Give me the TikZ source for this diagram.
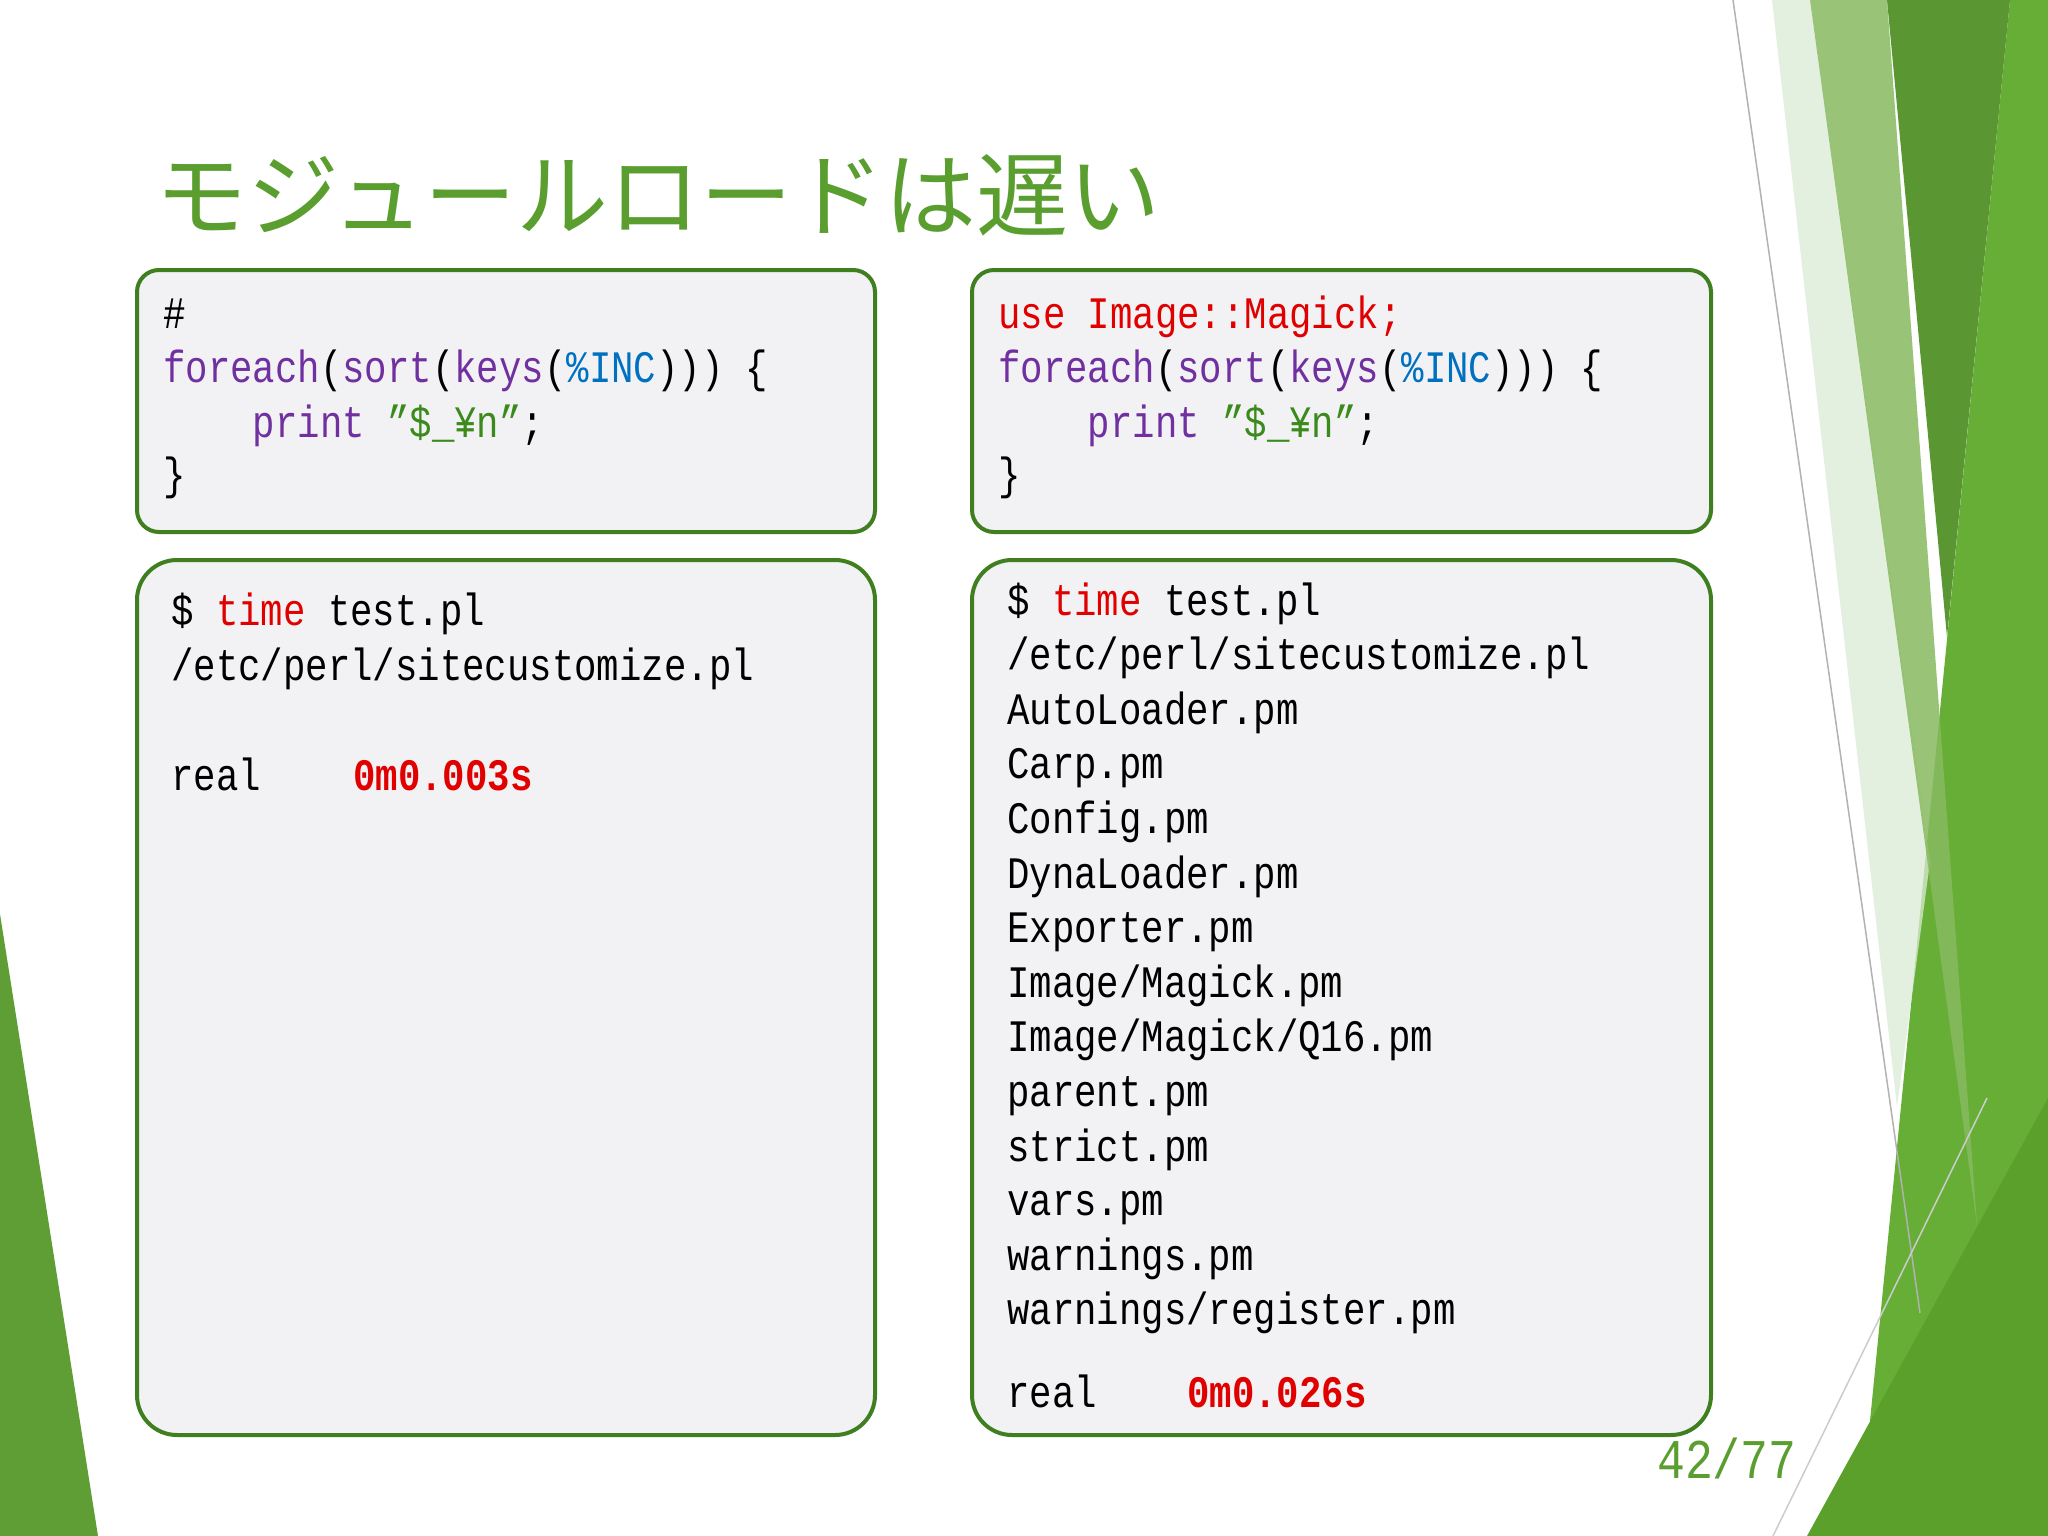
\documentclass[tikz,border=0pt]{standalone}
\usepackage{fontspec}
\newfontfamily\cjk{Noto Sans CJK JP}
\newfontfamily\code[FakeStretch=0.83]{Liberation Mono}
\definecolor{ttl}{HTML}{5A9E2F}
\definecolor{frame}{HTML}{3F7F1F}
\definecolor{boxbg}{HTML}{F2F2F4}
\definecolor{kw}{HTML}{7030A0}
\definecolor{var}{HTML}{0070C0}
\definecolor{str}{HTML}{3A8A1C}
\definecolor{rd}{HTML}{E00000}
\definecolor{gpale}{HTML}{DCEBD5}
\definecolor{gmed}{HTML}{88BA60}
\definecolor{gdark}{HTML}{5A9632}
\definecolor{gbright}{HTML}{66AE36}
\definecolor{gbot}{HTML}{5AA02A}
\definecolor{gleft}{HTML}{5F9E34}
\tikzset{
  codebox/.style={draw=frame, fill=boxbg, line width=4pt},
  ln/.style={anchor=base west, inner sep=0pt, font=\code\fontsize{45}{50}\selectfont},
}
\begin{document}
\begin{tikzpicture}[x=1pt,y=-1pt]
\useasboundingbox (0,0) rectangle (2048,1536);
\fill[white] (0,0) rectangle (2048,1536);
% decoration right
\fill[gbright] (2010,0) -- (2048,0) -- (2048,1536) -- (1870,1421) -- cycle;
\fill[gpale,opacity=0.75] (1772,0) -- (1810,0) -- (1930,862) -- (1897,1107) -- cycle;
\fill[gmed,opacity=0.85] (1810,0) -- (1887,0) -- (1977,1225) -- cycle;
\fill[gdark] (1887,0) -- (2010,0) -- (1947,637) -- cycle;
\fill[gbot] (1807,1536) -- (2048,1098) -- (2048,1536) -- cycle;
\draw[gray!60,line width=1.5pt] (1733,0) -- (1920,1313);
\draw[gray!40,line width=1.5pt] (1773,1536) -- (1987,1098);
% left triangle
\fill[gleft] (0,914) -- (98,1536) -- (0,1536) -- cycle;
% title
\node[anchor=west, inner sep=0pt, text=ttl, font=\cjk\fontsize{92}{94}\selectfont] (title) at (155,195) {モジュールロードは遅い};
% boxes
\draw[codebox, rounded corners=22pt] (137,270) rectangle (875,532);
\draw[codebox, rounded corners=22pt] (972,270) rectangle (1711,532);
\draw[codebox, rounded corners=40pt] (137,560) rectangle (875,1435);
\draw[codebox, rounded corners=40pt] (972,560) rectangle (1711,1435);
% TL
\node[ln] (a1) at (163,328) {\#};
\node[ln] (a2) at (163,382) {\textcolor{kw}{foreach}(\textcolor{kw}{sort}(\textcolor{kw}{keys}(\textcolor{var}{\%INC}))) \{};
\node[ln] (a3) at (163,437) {\ \ \ \ \textcolor{kw}{print} \textcolor{str}{”\$\_¥n”};};
\node[ln] (a4) at (163,489) {\}};
% TR
\node[ln,text=rd] (b1) at (998,328) {use Image::Magick;};
\node[ln] (b2) at (998,382) {\textcolor{kw}{foreach}(\textcolor{kw}{sort}(\textcolor{kw}{keys}(\textcolor{var}{\%INC}))) \{};
\node[ln] (b3) at (998,437) {\ \ \ \ \textcolor{kw}{print} \textcolor{str}{”\$\_¥n”};};
\node[ln] (b4) at (998,489) {\}};
% BL
\node[ln] (c1) at (171,625) {\$ \textcolor{rd}{time} test.pl};
\node[ln] (c2) at (171,680) {/etc/perl/sitecustomize.pl};
\node[ln] (c3) at (171,790) {real};
\node[ln,text=rd,font=\code\bfseries\fontsize{45}{50}\selectfont] (c4) at (353,790) {0m0.003s};
% BR
\node[ln] (d0) at (1007,615) {\$ \textcolor{rd}{time} test.pl};
\foreach \t [count=\i] in {/etc/perl/sitecustomize.pl,AutoLoader.pm,Carp.pm,Config.pm,DynaLoader.pm,Exporter.pm,Image/Magick.pm,Image/Magick/Q16.pm,parent.pm,strict.pm,vars.pm,warnings.pm,warnings/register.pm}
  \node[ln] (d\i) at (1007,615+54.6*\i) {\t};
\node[ln] (dr) at (1007,1407) {real};
\node[ln,text=rd,font=\code\bfseries\fontsize{45}{50}\selectfont] (dt) at (1187,1407) {0m0.026s};
% page number
\node[anchor=base west, inner sep=0pt, text=ttl, font=\code\fontsize{56}{60}\selectfont] (pg) at (1657,1478) {42/77};
\end{tikzpicture}
\end{document}
